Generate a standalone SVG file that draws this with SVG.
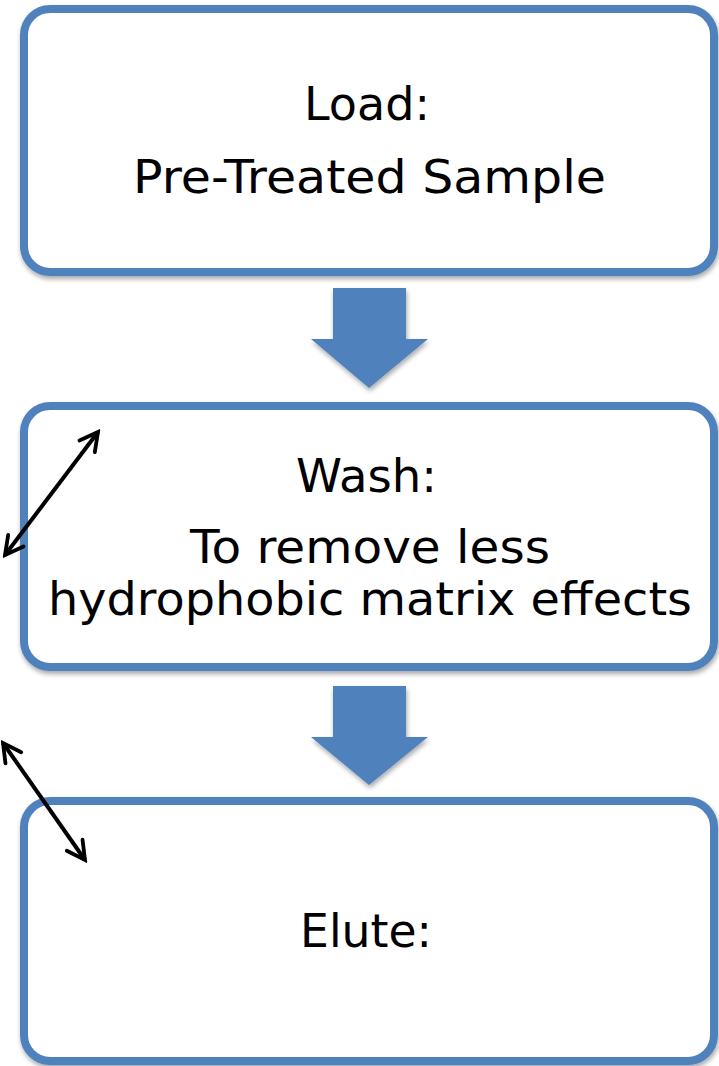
<svg xmlns="http://www.w3.org/2000/svg" width="719" height="1066" viewBox="0 0 719 1066">
  <style>
    .box { fill: #ffffff; stroke: #4f81bd; stroke-width: 8; }
    .flow { fill: #4f81bd; }
    .lbl { font-family: "DejaVu Sans", Verdana, sans-serif; font-size: 46px; fill: #000000; text-anchor: middle; }
    .dbl { stroke: #000000; stroke-width: 4; fill: none; marker-start: url(#tip); marker-end: url(#tip); }
  </style>
  <defs>
    <filter id="shade" x="-5%" y="-5%" width="110%" height="115%">
      <feGaussianBlur in="SourceAlpha" stdDeviation="2.5"/>
      <feOffset dx="1" dy="3" result="b"/>
      <feComponentTransfer><feFuncA type="linear" slope="0.35"/></feComponentTransfer>
      <feMerge><feMergeNode/><feMergeNode in="SourceGraphic"/></feMerge>
    </filter>
    <!-- open V arrowhead for the double-headed lines -->
    <marker id="tip" viewBox="0 0 12 12" refX="10.5" refY="6" markerWidth="6" markerHeight="6" orient="auto-start-reverse" markerUnits="strokeWidth">
      <path d="M1.5,1.2 L10.5,6 L1.5,10.8" fill="none" stroke="#000000" stroke-width="1.9" stroke-linecap="round" stroke-linejoin="miter"/>
    </marker>
  </defs>

  <g id="node-load">
    <rect class="box" x="24" y="9" width="690" height="263" rx="26" filter="url(#shade)"/>
    <text class="lbl" x="367" y="120" textLength="126" lengthAdjust="spacingAndGlyphs">Load:</text>
    <text class="lbl" x="369.5" y="193" textLength="473" lengthAdjust="spacingAndGlyphs">Pre-Treated Sample</text>
  </g>

  <g id="node-wash">
    <rect class="box" x="24" y="406" width="690" height="261" rx="26" filter="url(#shade)"/>
    <text class="lbl" x="366.5" y="492" textLength="141" lengthAdjust="spacingAndGlyphs">Wash:</text>
    <text class="lbl" x="370" y="563" textLength="360" lengthAdjust="spacingAndGlyphs">To remove less</text>
    <text class="lbl" x="370" y="615" textLength="644" lengthAdjust="spacingAndGlyphs">hydrophobic matrix effects</text>
  </g>

  <g id="node-elute">
    <rect class="box" x="24" y="801" width="690" height="260" rx="26" filter="url(#shade)"/>
    <text class="lbl" x="366" y="947" textLength="132" lengthAdjust="spacingAndGlyphs">Elute:</text>
  </g>

  <g id="connectors">
    <path class="flow" filter="url(#shade)" d="M333,288 H406 V339 H428 L369,388 L311,339 H333 Z"/>
    <path class="flow" filter="url(#shade)" d="M333,686 H406 V737 H428 L369,785 L311,737 H333 Z"/>
    <line class="dbl" x1="98" y1="432" x2="5" y2="555"/>
    <line class="dbl" x1="3" y1="743" x2="85" y2="860"/>
  </g>
</svg>
